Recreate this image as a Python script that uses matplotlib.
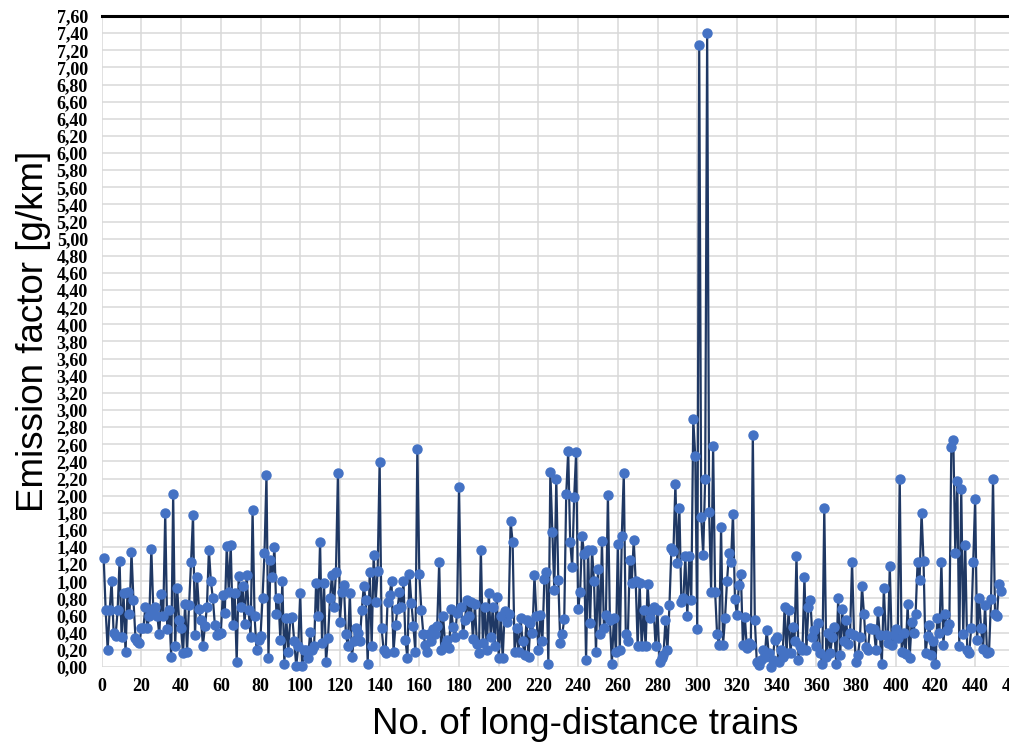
import numpy as np
import matplotlib
matplotlib.use("Agg")
import matplotlib.pyplot as plt
from matplotlib.ticker import MultipleLocator, FuncFormatter

# emission factor of each long-distance train, g/km
emission = [
    1.27, 0.66, 0.20, 0.66, 1.00, 0.40, 0.36, 0.66, 1.24, 0.35,
    0.86, 0.17, 0.88, 0.62, 1.34, 0.78, 0.34, 0.30, 0.28, 0.45,
    0.46, 0.70, 0.46, 0.60, 1.38, 0.66, 0.70, 0.60, 0.38, 0.85,
    0.60, 1.80, 0.44, 0.66, 0.12, 2.02, 0.24, 0.92, 0.55, 0.45,
    0.16, 0.74, 0.18, 0.72, 1.22, 1.77, 0.37, 1.05, 0.68, 0.55,
    0.25, 0.48, 0.70, 1.37, 1.00, 0.80, 0.49, 0.37, 0.38, 0.40,
    0.84, 0.63, 1.41, 0.88, 1.42, 0.49, 0.86, 0.06, 1.06, 0.70,
    0.94, 0.50, 1.07, 0.66, 0.35, 1.83, 0.59, 0.20, 0.31, 0.36,
    0.80, 1.33, 2.24, 0.11, 1.25, 1.05, 1.40, 0.62, 0.80, 0.32,
    1.00, 0.04, 0.57, 0.18, 0.57, 0.58, 0.30, 0.01, 0.24, 0.86,
    0.01, 0.20, 0.20, 0.10, 0.41, 0.20, 0.24, 0.98, 0.59, 1.46,
    0.28, 0.98, 0.06, 0.34, 0.80, 1.07, 0.70, 1.11, 2.27, 0.53,
    0.88, 0.96, 0.39, 0.24, 0.86, 0.12, 0.30, 0.45, 0.40, 0.30,
    0.66, 0.94, 0.78, 0.04, 1.11, 0.25, 1.31, 0.76, 1.12, 2.39,
    0.45, 0.20, 0.16, 0.76, 0.84, 1.00, 0.18, 0.49, 0.68, 0.87,
    0.70, 1.00, 0.32, 0.10, 1.09, 0.75, 0.48, 0.18, 2.55, 1.09,
    0.67, 0.39, 0.26, 0.18, 0.39, 0.30, 0.44, 0.39, 0.48, 1.22,
    0.20, 0.59, 0.26, 0.31, 0.22, 0.68, 0.47, 0.35, 0.63, 2.10,
    0.70, 0.39, 0.55, 0.78, 0.60, 0.76, 0.33, 0.74, 0.27, 0.16,
    1.37, 0.28, 0.70, 0.20, 0.86, 0.35, 0.70, 0.24, 0.82, 0.10,
    0.60, 0.10, 0.65, 0.53, 0.62, 1.70, 1.46, 0.18, 0.45, 0.18,
    0.57, 0.30, 0.14, 0.55, 0.12, 0.51, 0.40, 1.07, 0.59, 0.20,
    0.61, 0.30, 1.03, 1.11, 0.04, 2.28, 1.58, 0.90, 2.20, 1.02,
    0.28, 0.38, 0.56, 2.02, 2.52, 1.46, 1.17, 1.98, 2.51, 0.68,
    0.88, 1.53, 1.32, 0.08, 1.37, 0.51, 1.37, 1.00, 0.17, 1.14,
    0.39, 1.47, 0.45, 0.61, 2.01, 0.55, 0.04, 0.57, 0.18, 1.44,
    0.20, 1.53, 2.26, 0.39, 0.30, 1.25, 0.98, 1.48, 1.00, 0.24,
    0.98, 0.24, 0.66, 0.24, 0.97, 0.57, 0.66, 0.70, 0.24, 0.66,
    0.06, 0.10, 0.14, 0.55, 0.20, 0.72, 1.39, 1.35, 2.14, 1.21,
    1.86, 0.76, 0.80, 1.29, 0.59, 1.29, 0.78, 2.89, 2.46, 0.44,
    7.26, 1.75, 1.31, 2.20, 7.40, 1.81, 0.88, 2.58, 0.88, 0.38,
    0.26, 1.64, 0.26, 0.57, 1.00, 1.33, 1.23, 1.79, 0.79, 0.61,
    0.96, 1.09, 0.26, 0.58, 0.22, 0.28, 0.26, 2.71, 0.55, 0.06,
    0.02, 0.08, 0.20, 0.12, 0.43, 0.16, 0.00, 0.08, 0.32, 0.35,
    0.06, 0.20, 0.12, 0.70, 0.16, 0.66, 0.16, 0.47, 0.30, 1.30,
    0.08, 0.24, 0.20, 1.05, 0.20, 0.70, 0.78, 0.35, 0.43, 0.24,
    0.51, 0.16, 0.04, 1.86, 0.12, 0.40, 0.16, 0.35, 0.47, 0.04,
    0.81, 0.14, 0.68, 0.30, 0.55, 0.27, 0.40, 1.23, 0.37, 0.06,
    0.14, 0.35, 0.94, 0.62, 0.23, 0.20, 0.46, 0.44, 0.44, 0.20,
    0.65, 0.37, 0.04, 0.92, 0.37, 0.28, 1.18, 0.26, 0.37, 0.44,
    0.34, 2.20, 0.18, 0.40, 0.15, 0.73, 0.10, 0.52, 0.40, 0.62,
    1.22, 1.02, 1.80, 1.24, 0.16, 0.36, 0.49, 0.14, 0.30, 0.03,
    0.57, 0.40, 1.22, 0.26, 0.62, 0.43, 0.50, 2.57, 2.65, 1.33,
    2.17, 0.25, 2.08, 0.38, 1.43, 0.20, 0.16, 0.45, 1.22, 1.96,
    0.32, 0.80, 0.45, 0.21, 0.72, 0.16, 0.18, 0.79, 2.20, 0.62,
    0.59, 0.97, 0.89,
]
train_no = np.arange(1, len(emission) + 1)

fig = plt.figure(figsize=(10.09, 7.48), dpi=100)
# axes run past the right edge, as in the cropped original
ax = fig.add_axes([0.1008, 0.1083, 0.905, 0.8703])

ax.plot(train_no, emission, "-o", color="#1f3864", lw=1.6,
        markersize=6.5, markerfacecolor="#4472c4", markeredgecolor="#4472c4",
        clip_on=False, zorder=3)

ax.set_xlim(0, 460)
ax.set_ylim(0, 7.6)
ax.xaxis.set_major_locator(MultipleLocator(20))
ax.yaxis.set_major_locator(MultipleLocator(0.2))
ax.yaxis.set_major_formatter(FuncFormatter(lambda v, p: ("%.2f" % v).replace(".", ",")))
ax.grid(True, color="#d9d9d9", lw=1.1)
ax.set_axisbelow(True)

for s in ["left", "right", "bottom"]:
    ax.spines[s].set_visible(False)
ax.spines["top"].set_color("black")
ax.spines["top"].set_linewidth(2.2)

tickfont = dict(family="Liberation Serif", weight="bold", size=13)
ax.tick_params(length=0, pad=10)
ax.tick_params(axis="x", pad=8)
for lab in ax.get_xticklabels() + ax.get_yticklabels():
    lab.set_fontproperties(matplotlib.font_manager.FontProperties(**tickfont))

ax.set_xlabel("No. of long-distance trains", family="Liberation Sans", fontsize=26.5)
ax.set_ylabel("Emission factor [g/km]", family="Liberation Sans", fontsize=26.5)
ax.xaxis.set_label_coords(0.530, -0.062)
ax.yaxis.set_label_coords(-0.055, 0.515)

fig.savefig("out.png", dpi=100)
